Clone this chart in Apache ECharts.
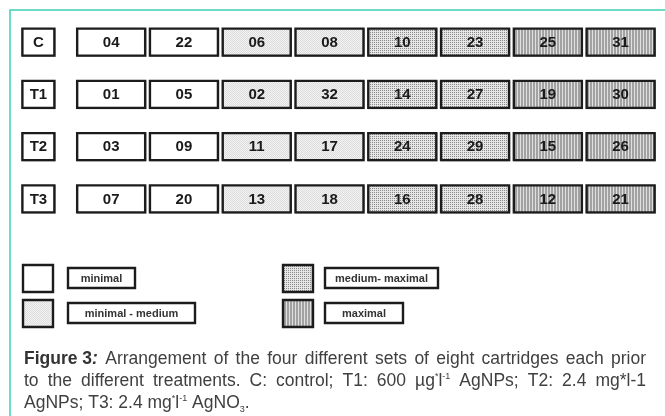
<!DOCTYPE html>
<html>
<head>
<meta charset="utf-8">
<script src="https://cdn.jsdelivr.net/npm/echarts@6/dist/echarts.min.js"></script>
<style>
  html, body { margin: 0; padding: 0; background: #fff; }
  #chart { width: 665px; height: 416px; }
</style>
</head>
<body>
<div id="chart"></div>
<script>
// sets of cartridges, one list per treatment
const groups = ['C', 'T1', 'T2', 'T3']
const cartridgesC = ['04', '22', '06', '08', '10', '23', '25', '31']
const cartridgesT1 = ['01', '05', '02', '32', '14', '27', '19', '30']
const cartridgesT2 = ['03', '09', '11', '17', '24', '29', '15', '26']
const cartridgesT3 = ['07', '20', '13', '18', '16', '28', '12', '21']
// level of each position (index into levelNames)
const positionLevel = [0, 0, 1, 1, 2, 2, 3, 3]
const levelNames = ['minimal', 'minimal - medium', 'medium- maximal', 'maximal']
const positions = ['', '1', '2', '3', '4', '5', '6', '7', '8']

const captionLines = [
  '{b|Figure 3}{bi|:} Arrangement of the four different sets of eight cartridges each prior',
  'to the different treatments. C: control; T1: 600 µg{sup|*}l{sup|-1} AgNPs; T2: 2.4 mg*l-1',
  'AgNPs; T3: 2.4 mg{sup|*}l{sup|-1} AgNO{sub|3}.'
]
const captionJustify = [true, true, false]

// small canvas tiles used as fill patterns
function makeTile(w, h, draw) {
  const c = document.createElement('canvas')
  c.width = w
  c.height = h
  const ctx = c.getContext('2d')
  draw(ctx)
  return { image: c, repeat: 'repeat' }
}
const fills = [
  '#ffffff',
  makeTile(2, 2, ctx => {
    ctx.fillStyle = '#f2f2f2'; ctx.fillRect(0, 0, 2, 2)
    ctx.fillStyle = '#dddddd'; ctx.fillRect(0, 0, 1, 1); ctx.fillRect(1, 1, 1, 1)
  }),
  makeTile(2, 2, ctx => {
    ctx.fillStyle = '#e6e6e6'; ctx.fillRect(0, 0, 2, 2)
    ctx.fillStyle = '#8a8a8a'; ctx.fillRect(0, 0, 1, 1)
  }),
  makeTile(3, 2, ctx => {
    ctx.fillStyle = '#a2a2a2'; ctx.fillRect(0, 0, 3, 2)
    ctx.fillStyle = '#e0e0e0'; ctx.fillRect(1, 0, 1, 2)
  })
]

const rows = [cartridgesC, cartridgesT1, cartridgesT2, cartridgesT3]
const cellData = []
rows.forEach((list, r) => {
  cellData.push([0, r, groups[r], -1])
  list.forEach((id, i) => cellData.push([i + 1, r, id, positionLevel[i]]))
})

const chart = echarts.init(document.getElementById('chart'))

function renderCell(params, api) {
  const col = api.value(0)
  const p = api.coord([col, api.value(1)])
  const level = cellData[params.dataIndex][3]
  const w = col === 0 ? 32 : 68
  const h = 27
  return {
    type: 'group',
    children: [
      {
        type: 'rect',
        shape: { x: p[0] - w / 2 + 0.5, y: p[1] - h / 2 + 0.5, width: w, height: h },
        style: { fill: 'rgba(0,0,0,0)', stroke: '#b5b5b5', lineWidth: 1.5 }
      },
      {
        type: 'rect',
        shape: { x: p[0] - w / 2, y: p[1] - h / 2, width: w, height: h },
        style: { fill: level < 0 ? '#ffffff' : fills[level], stroke: '#1c1c1c', lineWidth: 2.4 }
      },
      {
        type: 'text',
        x: p[0],
        y: p[1] + 0.5,
        style: {
          text: cellData[params.dataIndex][2],
          align: 'center',
          verticalAlign: 'middle',
          font: 'bold 15px "Liberation Sans", Arial, sans-serif',
          fill: '#1a1a1a'
        }
      }
    ]
  }
}

// legend built from level names
const legendSquares = [[23, 265], [23, 300], [283, 265], [283, 300]]
const legendBoxW = [67, 127, 113, 78]
const legendGraphics = []
levelNames.forEach((name, i) => {
  const sq = legendSquares[i]
  legendGraphics.push({
    type: 'rect',
    shape: { x: sq[0], y: sq[1], width: 30, height: 27 },
    style: { fill: fills[i], stroke: '#1c1c1c', lineWidth: 2.4 }
  })
  const bx = sq[0] + 45 - (i >= 2 ? 3 : 0)
  legendGraphics.push({
    type: 'rect',
    shape: { x: bx, y: sq[1] + 3, width: legendBoxW[i], height: 20 },
    style: { fill: '#fff', stroke: '#1c1c1c', lineWidth: 2.4 }
  })
  legendGraphics.push({
    type: 'text',
    x: bx + legendBoxW[i] / 2,
    y: sq[1] + 13.5,
    style: {
      text: name,
      align: 'center',
      verticalAlign: 'middle',
      font: 'bold 11px "Liberation Sans", Arial, sans-serif',
      fill: '#333'
    }
  })
})

// caption, lines 1-2 justified like the printed figure
const FAMILY = '"Liberation Sans", Arial, sans-serif'
const CAP_SIZE = 17.5
const capFonts = {
  '': CAP_SIZE + 'px ' + FAMILY,
  b: 'bold ' + CAP_SIZE + 'px ' + FAMILY,
  bi: 'italic bold ' + CAP_SIZE + 'px ' + FAMILY,
  sup: '9px ' + FAMILY,
  sub: '9px ' + FAMILY
}
const measureCtx = document.createElement('canvas').getContext('2d')
function wordWidth(word) {
  let w = 0
  const re = /\{(\w+)\|([^}]*)\}|([^{]+)/g
  let m
  while ((m = re.exec(word))) {
    measureCtx.font = capFonts[m[1] || '']
    w += measureCtx.measureText(m[1] ? m[2] : m[3]).width
  }
  return w
}
const capLeft = 24
const capRight = 646
const capTop = 348
const capLineH = 22
const captionGraphics = []
captionLines.forEach((line, li) => {
  // split on spaces, but keep rich tokens like {b|Figure 3} whole
  const words = line.match(/(?:\{[^}]*\}|[^ {])+/g)
  const widths = words.map(wordWidth)
  const total = widths.reduce((a, b) => a + b, 0)
  measureCtx.font = capFonts['']
  const space = measureCtx.measureText(' ').width
  const gap = captionJustify[li] ? (capRight - capLeft - total) / (words.length - 1) : space
  let x = capLeft
  words.forEach((word, wi) => {
    captionGraphics.push({
      type: 'text',
      x: x,
      y: capTop + li * capLineH,
      style: {
        text: word,
        font: capFonts[''],
        fill: '#404040',
        verticalAlign: 'top',
        lineHeight: capLineH,
        rich: {
          b: { font: capFonts.b, fill: '#333', lineHeight: capLineH },
          bi: { font: capFonts.bi, fill: '#333', lineHeight: capLineH },
          sup: { font: capFonts.sup, verticalAlign: 'top', lineHeight: 12, padding: [2, 0, 0, 0] },
          sub: { font: capFonts.sub, verticalAlign: 'bottom', lineHeight: 11 }
        }
      }
    })
    x += widths[wi] + gap
  })
})

const option = {
  animation: false,
  grid: { left: 2, top: 16, width: 655, height: 209 },
  xAxis: {
    type: 'category',
    data: positions,
    show: false
  },
  yAxis: {
    type: 'category',
    data: groups,
    inverse: true,
    show: false
  },
  graphic: [
    // teal frame
    {
      type: 'polyline',
      shape: { points: [[10, 416], [10, 10], [665, 10]] },
      style: { stroke: '#3fcfb6', lineWidth: 1.5, fill: null }
    },
    ...legendGraphics,
    ...captionGraphics
  ],
  series: [
    {
      type: 'custom',
      renderItem: renderCell,
      data: cellData.map(d => [d[0], d[1]])
    }
  ]
}
chart.setOption(option)
</script>
</body>
</html>
